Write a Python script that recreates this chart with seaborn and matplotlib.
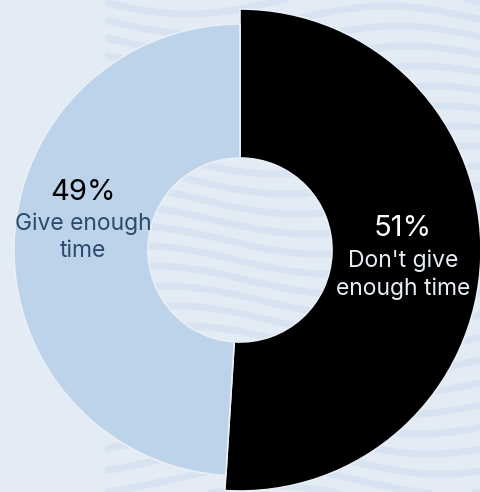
import matplotlib
matplotlib.use("Agg")
import matplotlib.pyplot as plt
import numpy as np
import seaborn as sns

# ---- data ----
categories = ["Don't give\nenough time", "Give enough\ntime"]
values = [51, 49]
pct_labels = ["51%", "49%"]

# ---- style ----
sns.set_theme(style="white")
plt.rcParams["font.family"] = ["Inter", "DejaVu Sans"]

BG = "#e3ebf4"
STRIPE = "#d8e3f2"
C_DARK = "#000000"
C_LIGHT = "#bdd3ea"
EDGE = "#e9eff6"

fig = plt.figure(figsize=(4.81, 4.92), dpi=100, facecolor=BG)
ax = fig.add_axes([0, 0, 1, 1])
ax.set_facecolor(BG)

# decorative wavy background stripes (right part of the canvas)
xs = np.linspace(-132, 245, 300)
for k, y0 in enumerate(np.arange(-250, 265, 20)):
    ys = y0 + 14 * np.sin((xs + 60 + 11 * k) / 60.0)
    ax.plot(xs, ys, color=STRIPE, lw=5, solid_capstyle="round", zorder=0)

R_DARK, R_LIGHT, R_IN = 241, 226, 92

# dark slice (bigger radius)
w1, _ = ax.pie(values, radius=R_DARK, startangle=90, counterclock=False,
               colors=[C_DARK, "none"],
               wedgeprops=dict(width=R_DARK - R_IN, edgecolor=EDGE, linewidth=1.2))
w1[1].set_edgecolor("none")
# light slice
w2, _ = ax.pie(values, radius=R_LIGHT, startangle=90, counterclock=False,
               colors=["none", C_LIGHT],
               wedgeprops=dict(width=R_LIGHT - R_IN, edgecolor=EDGE, linewidth=1.2))
w2[0].set_edgecolor("none")
for w in list(w1) + list(w2):
    w.set_zorder(2)

ax.set_xlim(-240, 241)
ax.set_ylim(-242, 250)
ax.set_aspect("equal")
ax.axis("off")

# labels
ax.text(163, 21, pct_labels[0], ha="center", va="center", fontsize=21,
        color="white", zorder=3)
ax.text(163, -25, categories[0], ha="center", va="center", fontsize=16.5,
        color="#e8eef6", linespacing=1.3, zorder=3)
ax.text(-157, 57, pct_labels[1], ha="center", va="center", fontsize=21,
        color="black", zorder=3)
ax.text(-157, 13, categories[1], ha="center", va="center", fontsize=16.5,
        color="#2b4a6d", linespacing=1.3, zorder=3)

fig.savefig("out.png", dpi=100, facecolor=BG)
